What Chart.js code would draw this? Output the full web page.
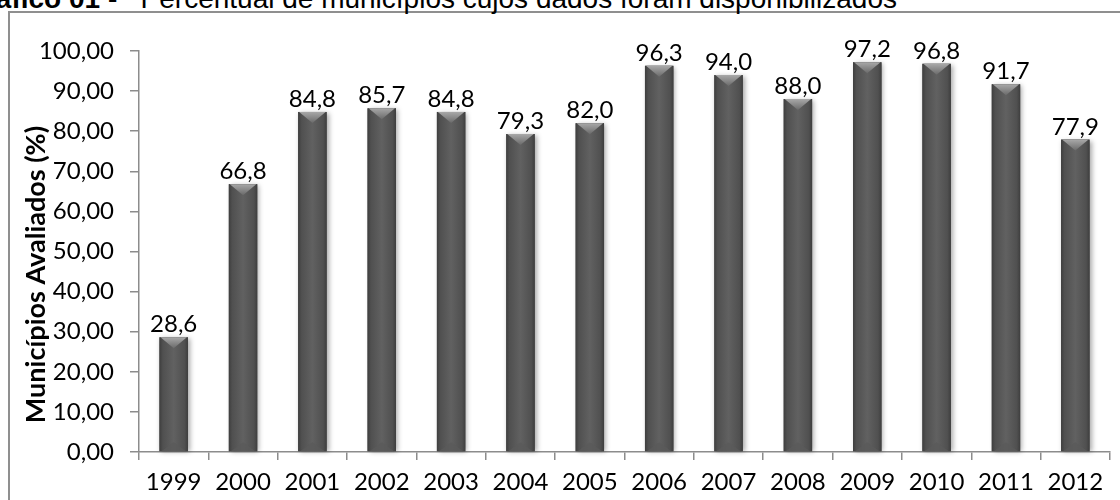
<!DOCTYPE html>
<html lang="pt-BR">
<head>
<meta charset="utf-8">
<title>Municípios avaliados</title>
<script src="https://cdn.jsdelivr.net/npm/chart.js@4/dist/chart.umd.min.js"></script>
<style>
  html, body { margin: 0; padding: 0; background: #fff; }
  body  { width: 1120px; height: 500px; position: relative; overflow: hidden; }
  #frame { position: absolute; left: 8px; top: 11px; width: 1200px; height: 600px;
           border: 2px solid #8f8f8f; box-sizing: border-box; }
  #title { position: absolute; right: 223px; top: -15px; width: max-content; white-space: nowrap;
           font-family: "Liberation Sans", Arial, sans-serif; font-size: 28px; line-height: 28px; color: #000; }
  #title b { font-weight: bold; }
  #wrap  { position: absolute; left: 0; top: 0; width: 1120px; height: 500px; }
</style>
</head>
<body>
<div id="frame"></div>
<div id="title"><b>Gráfico 01 -</b>&nbsp;&nbsp; Percentual de municípios cujos dados foram disponibilizados</div>
<div id="wrap"><canvas id="chart" width="1120" height="500"></canvas></div>

<script>
/* ── DATA ── */
const years   = ['1999', '2000', '2001', '2002', '2003', '2004', '2005',
                 '2006', '2007', '2008', '2009', '2010', '2011', '2012'];
const percent = [28.6, 66.8, 84.8, 85.7, 84.8, 79.3, 82.0,
                 96.3, 94.0, 88.0, 97.2, 96.8, 91.7, 77.9];
const yTicks  = [0, 10, 20, 30, 40, 50, 60, 70, 80, 90, 100];
const yTitle  = 'Municípios Avaliados (%)';

const FONT = 'Lato, "Open Sans", sans-serif';
const AXIS = '#8c8c8c';

/* decimal comma, pt-BR style */
const fmt = (v, d) => v.toFixed(d).replace('.', ',');

/* ── Bar shading: Excel-like bevelled cylinder ── */
const barShade = {
  id: 'barShade',
  afterDatasetsDraw(chart) {
    const { ctx } = chart;
    const meta = chart.getDatasetMeta(0);
    ctx.save();
    meta.data.forEach(bar => {
      const { x, y, base, width } = bar.getProps(['x', 'y', 'base', 'width'], true);
      const l = x - width / 2, r = x + width / 2;

      /* body */
      ctx.shadowColor   = 'rgba(0,0,0,0.35)';
      ctx.shadowBlur    = 5;
      ctx.shadowOffsetX = 2;
      ctx.shadowOffsetY = 1;
      const g = ctx.createLinearGradient(l, 0, r, 0);
      g.addColorStop(0,    '#3e3e3e');
      g.addColorStop(0.12, '#505050');
      g.addColorStop(0.5,  '#616161');
      g.addColorStop(0.88, '#505050');
      g.addColorStop(1,    '#3e3e3e');
      ctx.fillStyle = g;
      ctx.fillRect(l, y, width, base - y);
      ctx.shadowColor = 'transparent';

      /* top bevel */
      const t = ctx.createLinearGradient(0, y, 0, y + 11);
      t.addColorStop(0, '#a8a8a8');
      t.addColorStop(1, '#6a6a6a');
      ctx.fillStyle = t;
      ctx.beginPath();
      ctx.moveTo(l + 1, y);
      ctx.lineTo(r - 1, y);
      ctx.lineTo(x, y + 11);
      ctx.closePath();
      ctx.fill();

      /* bottom bevel */
      ctx.fillStyle = 'rgba(90,90,90,0.8)';
      ctx.beginPath();
      ctx.moveTo(l + 2, base);
      ctx.lineTo(r - 2, base);
      ctx.lineTo(x, base - 9);
      ctx.closePath();
      ctx.fill();
    });
    ctx.restore();
  }
};

/* ── Value labels above bars + rotated axis title ── */
const valueLabels = {
  id: 'valueLabels',
  afterDatasetsDraw(chart) {
    const { ctx } = chart;
    const meta = chart.getDatasetMeta(0);
    ctx.save();
    ctx.font         = '24px ' + FONT;
    ctx.fillStyle    = '#000';
    ctx.textAlign    = 'center';
    ctx.textBaseline = 'alphabetic';
    meta.data.forEach((bar, i) => {
      ctx.fillText(fmt(percent[i], 1), bar.x, bar.y - 5);
    });
    ctx.restore();
  },
  afterDraw(chart) {
    /* Excel puts the title a bit below the axis centre */
    const { ctx, chartArea } = chart;
    const cy = (chartArea.top + chartArea.bottom) / 2 + 23;
    ctx.save();
    ctx.translate(36, cy);
    ctx.rotate(-Math.PI / 2);
    ctx.font         = 'bold 27px ' + FONT;
    ctx.fillStyle    = '#000';
    ctx.textAlign    = 'center';
    ctx.textBaseline = 'middle';
    ctx.fillText(yTitle, 0, 0);
    ctx.restore();
  }
};

new Chart(document.getElementById('chart').getContext('2d'), {
  type: 'bar',
  data: {
    labels: years,
    datasets: [{
      data: percent,
      backgroundColor: '#555',
      borderWidth: 0,
      categoryPercentage: 1,
      barPercentage: 0.41
    }]
  },
  options: {
    responsive: false,
    animation: false,
    layout: { padding: { top: 51, right: 10, left: 0, bottom: 0 } },
    plugins: {
      legend:  { display: false },
      tooltip: { enabled: false }
    },
    scales: {
      x: {
        offset: true,
        grid:   { display: true, drawOnChartArea: false, drawTicks: true, tickLength: 8,
                  color: AXIS, lineWidth: 1.5, offset: true },
        border: { color: AXIS, width: 1.5 },
        ticks:  { font: { family: FONT, size: 24 }, color: '#000', padding: 8,
                  maxRotation: 0, autoSkip: false },
        afterFit(scale) { scale.height = 48; }
      },
      y: {
        min: 0,
        max: 100,
        afterBuildTicks(scale) { scale.ticks = yTicks.map(v => ({ value: v })); },
        grid:   { display: true, drawOnChartArea: false, drawTicks: true, tickLength: 9,
                  color: AXIS, lineWidth: 1.5 },
        border: { color: AXIS, width: 1.5 },
        ticks:  { font: { family: FONT, size: 24 }, color: '#000', padding: 16,
                  callback: v => fmt(v, 2) },
        title:  { display: false },
        afterFit(scale) { scale.width = 139; }
      }
    }
  },
  plugins: [barShade, valueLabels]
});
</script>
</body>
</html>
